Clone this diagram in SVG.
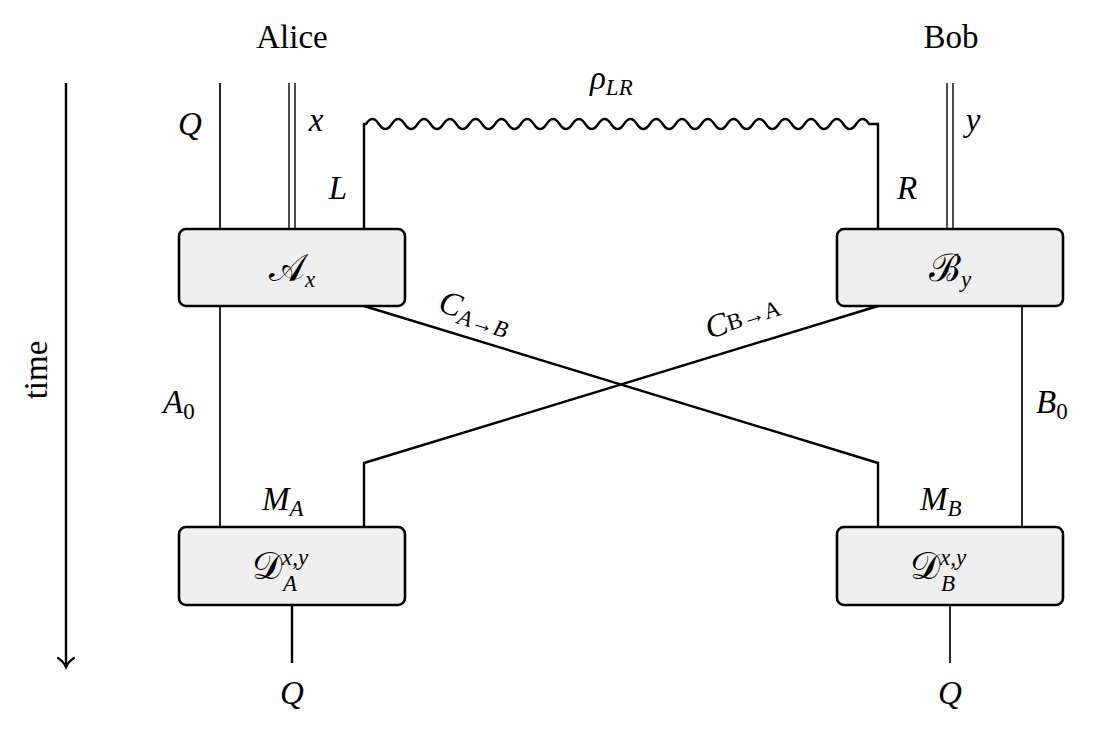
<svg xmlns="http://www.w3.org/2000/svg" width="1100" height="733" viewBox="0 0 1100 733" font-family="Liberation Serif, DejaVu Serif, serif">
<style>
.m{font-style:italic;font-size:33px}
.r{font-size:33px}
.s{font-size:23px}
.c{font-size:38px;font-style:normal}
.w{fill:none;stroke:#000;stroke-width:1.7}
.t{fill:none;stroke:#000;stroke-width:2.4}
.d{fill:none;stroke:#000;stroke-width:1.4}
.box{fill:#efefef;stroke:#000;stroke-width:2.6}
</style>
<defs>
<marker id="ah" markerWidth="14" markerHeight="20" refX="11" refY="10" orient="auto" markerUnits="userSpaceOnUse" viewBox="0 0 14 20">
<path d="M2,2 Q6,8 11,10 Q6,12 2,18" fill="none" stroke="#000" stroke-width="2.2" stroke-linecap="round"/>
</marker>
</defs>
<g id="labels">
<text class="r" x="292" y="48" text-anchor="middle">Alice</text>
<text class="r" x="951" y="48" text-anchor="middle">Bob</text>
<text class="r" transform="translate(47,370) rotate(-90)" text-anchor="middle">time</text>
</g>
<g id="connectors">
<line class="w" x1="220" y1="83" x2="220" y2="229"/>
<line class="d" x1="289" y1="83" x2="289" y2="229"/>
<line class="d" x1="295" y1="83" x2="295" y2="229"/>
<line class="d" x1="947" y1="83" x2="947" y2="229"/>
<line class="d" x1="953" y1="83" x2="953" y2="229"/>
<path class="t" d="M364,229 V124 h2 c4.3,-6.7 8.6,-6.7 12.9,0 c4.3,6.7 8.6,6.7 12.9,0 c4.3,-6.7 8.6,-6.7 12.9,0 c4.3,6.7 8.6,6.7 12.9,0 c4.3,-6.7 8.6,-6.7 12.9,0 c4.3,6.7 8.6,6.7 12.9,0 c4.3,-6.7 8.6,-6.7 12.9,0 c4.3,6.7 8.6,6.7 12.9,0 c4.3,-6.7 8.6,-6.7 12.9,0 c4.3,6.7 8.6,6.7 12.9,0 c4.3,-6.7 8.6,-6.7 12.9,0 c4.3,6.7 8.6,6.7 12.9,0 c4.3,-6.7 8.6,-6.7 12.9,0 c4.3,6.7 8.6,6.7 12.9,0 c4.3,-6.7 8.6,-6.7 12.9,0 c4.3,6.7 8.6,6.7 12.9,0 c4.3,-6.7 8.6,-6.7 12.9,0 c4.3,6.7 8.6,6.7 12.9,0 c4.3,-6.7 8.6,-6.7 12.9,0 c4.3,6.7 8.6,6.7 12.9,0 c4.3,-6.7 8.6,-6.7 12.9,0 c4.3,6.7 8.6,6.7 12.9,0 c4.3,-6.7 8.6,-6.7 12.9,0 c4.3,6.7 8.6,6.7 12.9,0 c4.3,-6.7 8.6,-6.7 12.9,0 c4.3,6.7 8.6,6.7 12.9,0 c4.3,-6.7 8.6,-6.7 12.9,0 c4.3,6.7 8.6,6.7 12.9,0 c4.3,-6.7 8.6,-6.7 12.9,0 c4.3,6.7 8.6,6.7 12.9,0 c4.3,-6.7 8.6,-6.7 12.9,0 c4.3,6.7 8.6,6.7 12.9,0 c4.3,-6.7 8.6,-6.7 12.9,0 c4.3,6.7 8.6,6.7 12.9,0 c4.3,-6.7 8.6,-6.7 12.9,0 c4.3,6.7 8.6,6.7 12.9,0 c4.3,-6.7 8.6,-6.7 12.9,0 c4.3,6.7 8.6,6.7 12.9,0 c4.3,-6.7 8.6,-6.7 12.9,0 H878 V229"/>
<line class="w" x1="220" y1="306" x2="220" y2="527"/>
<line class="w" x1="1022" y1="306" x2="1022" y2="527"/>
<path class="t" d="M364,306 L878,463 V527"/>
<path class="t" d="M878,306 L364,463 V527"/>
<line class="t" x1="292" y1="605" x2="292" y2="663"/>
<line class="w" x1="950" y1="605" x2="950" y2="663"/>
<line class="t" x1="66" y1="83" x2="66" y2="667" marker-end="url(#ah)"/>
<text class="m" x="190" y="135" text-anchor="middle">Q</text>
<text class="m" x="316" y="131" text-anchor="middle">x</text>
<text class="m" x="338" y="199" text-anchor="middle">L</text>
<text class="m" x="907" y="199" text-anchor="middle">R</text>
<text class="m" x="973" y="131" text-anchor="middle">y</text>
<text class="m" x="590" y="89">ρ<tspan class="s" dy="6">LR</tspan></text>
<text class="m" x="163" y="413">A<tspan class="s" font-style="normal" dy="6">0</tspan></text>
<text class="m" x="1036" y="413">B<tspan class="s" font-style="normal" dy="6">0</tspan></text>
<text class="m" x="262" y="510">M<tspan class="s" dy="6">A</tspan></text>
<text class="m" x="920" y="510">M<tspan class="s" dy="6">B</tspan></text>
<text class="m" x="292" y="704" text-anchor="middle">Q</text>
<text class="m" x="950" y="704" text-anchor="middle">Q</text>
<text class="m" transform="translate(437,311) rotate(17)">C<tspan class="s" dy="6">A→B</tspan></text>
<text class="m" transform="translate(709,339) rotate(-17)">C<tspan class="s" font-style="normal" dy="-2">B→A</tspan></text>
</g>
<g id="nodeA">
<rect class="box" x="179" y="229" width="226" height="77" rx="7"/>
<text class="m" x="292" y="281" text-anchor="middle"><tspan class="c">𝒜</tspan><tspan class="s" dy="6">x</tspan></text>
</g>
<g id="nodeB">
<rect class="box" x="837" y="229" width="226" height="77" rx="7"/>
<text class="m" x="950" y="281" text-anchor="middle"><tspan class="c">ℬ</tspan><tspan class="s" dy="6">y</tspan></text>
</g>
<g id="nodeDA">
<rect class="box" x="179" y="527" width="226" height="78" rx="7"/>
<text class="m" x="252" y="579"><tspan class="c">𝒟</tspan><tspan class="s" dy="-14">x,y</tspan></text>
<text class="m s" x="283" y="591">A</text>
</g>
<g id="nodeDB">
<rect class="box" x="837" y="527" width="226" height="78" rx="7"/>
<text class="m" x="910" y="579"><tspan class="c">𝒟</tspan><tspan class="s" dy="-14">x,y</tspan></text>
<text class="m s" x="941" y="591">B</text>
</g>
</svg>
